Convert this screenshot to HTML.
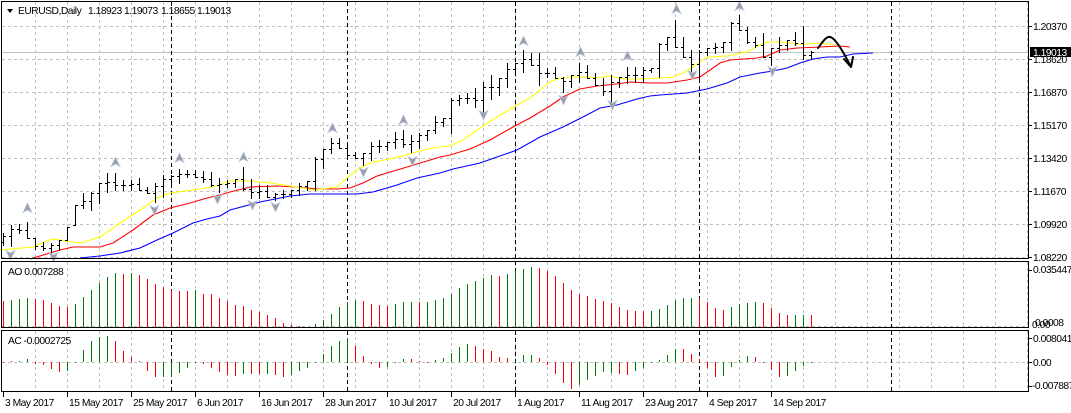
<!DOCTYPE html>
<html><head><meta charset="utf-8">
<style>
html,body{margin:0;padding:0;background:#fff;overflow:hidden;}
svg{display:block;}
text{font-family:"Liberation Sans",sans-serif;font-size:10.3px;letter-spacing:-0.5px;fill:#000;}
</style></head><body>
<svg id="c" width="1071" height="413" xmlns="http://www.w3.org/2000/svg">
<rect width="1071" height="413" fill="#fff"/>
<g id="grid"></g>
<path d="M2 52.5H1028" stroke="#c0c0c0" stroke-width="1" fill="none"/>
<g id="sep"></g>
<g id="ma"></g>
<g id="bars"></g>
<g id="fr"></g>
<g id="ind"></g>
<path d="M818 48 C822 43 826 36 830 37 C836 38 846 57 851 67 M844 59 L851 67 L853 57" stroke="#000" stroke-width="2" fill="none" stroke-linejoin="round" stroke-linecap="round"/>
<!-- borders -->
<rect x="1.5" y="1.5" width="1027" height="257" fill="none" stroke="#000" stroke-width="1"/>
<rect x="1.5" y="261.5" width="1027" height="66" fill="none" stroke="#000" stroke-width="1"/>
<rect x="1.5" y="330.5" width="1027" height="61" fill="none" stroke="#000" stroke-width="1"/>
<g id="ticks"></g>
<!-- header -->
<polygon points="7,9 13,9 10,13" fill="#000"/>
<text x="18" y="14">EURUSD,Daily</text>
<text x="88" y="14">1.18923</text>
<text x="124" y="14">1.19073</text>
<text x="161" y="14">1.18655</text>
<text x="197" y="14">1.19013</text>
<text x="8" y="275">AO 0.007288</text>
<text x="8" y="344">AC -0.0002725</text>
<!-- right axis -->
<text x="1033" y="30">1.20370</text>
<text x="1033" y="63">1.18620</text>
<rect x="1030" y="47" width="41" height="10" fill="#000"/>
<text x="1033" y="56" style="fill:#fff">1.19013</text>
<text x="1033" y="96">1.16870</text>
<text x="1033" y="129">1.15170</text>
<text x="1033" y="162">1.13420</text>
<text x="1033" y="195">1.11670</text>
<text x="1033" y="228">1.09920</text>
<text x="1033" y="261">1.08220</text>
<text x="1033" y="273">0.035447</text>
<text x="1032" y="328">0.00</text>
<text x="1035" y="326">0.0008</text>
<text x="1033" y="342">0.0080415</text>
<text x="1033" y="366">0.00</text>
<text x="1032" y="389">-0.007887</text>
<!-- time axis -->
<text x="5" y="406">3 May 2017</text>
<text x="69" y="406">15 May 2017</text>
<text x="133" y="406">25 May 2017</text>
<text x="197" y="406">6 Jun 2017</text>
<text x="261" y="406">16 Jun 2017</text>
<text x="325" y="406">28 Jun 2017</text>
<text x="389" y="406">10 Jul 2017</text>
<text x="453" y="406">20 Jul 2017</text>
<text x="517" y="406">1 Aug 2017</text>
<text x="581" y="406">11 Aug 2017</text>
<text x="645" y="406">23 Aug 2017</text>
<text x="709" y="406">4 Sep 2017</text>
<text x="773" y="406">14 Sep 2017</text>
</svg>
<script>
(function(){
const NS='http://www.w3.org/2000/svg';
function el(tag,attrs,parent){const e=document.createElementNS(NS,tag);for(const k in attrs)e.setAttribute(k,attrs[k]);parent.appendChild(e);return e;}
// grid
let d='';
[26,59,92,125,158,191,224,257].forEach(y=>{d+='M2 '+(y+.5)+'H1028';});
const panels=[[2,258],[262,327],[331,391]];
for(let k=1;k<=32;k++){const x=3+32*k+.5;if(x>1028)break;panels.forEach(p=>{d+='M'+x+' '+p[0]+'V'+p[1];});}
d+='M2 326.5H1028M2 362.5H1028';
el('path',{d:d,stroke:'#c0c0c0','stroke-dasharray':'3,3',fill:'none','stroke-width':1},document.getElementById('grid'));
// separators
d='';
[171,347,515,699,891].forEach(x=>{d+='M'+(x+.5)+' 2V391';});
el('path',{d:d,stroke:'#000','stroke-dasharray':'4,3',fill:'none','stroke-width':1},document.getElementById('sep'));
// MAs
const MA=document.getElementById('ma');
const Y=[[0,250],[33,247],[52,239],[60,240],[80,243],[100,237],[120,223],[140,210],[157,198],[170,193],[193,190],[213,187],[230,181],[250,181],[270,183],[290,186],[303,188],[313,190],[323,189],[337,187],[347,178],[360,168],[373,162],[390,159],[410,154],[423,150],[440,147],[450,146],[463,140],[480,128],[497,117],[517,105],[530,98],[540,90],[550,82],[557,79],[570,77],[587,77],[597,78],[610,76],[623,79],[640,79],[660,78],[673,77],[683,73],[693,67],[707,57],[727,56],[747,52],[760,45],[767,42],[780,42],[797,44],[807,44],[820,43],[835,45]];
const R=[[30,259],[60,250],[73,247],[100,247],[113,243],[133,230],[153,215],[170,208],[190,203],[207,198],[220,195],[230,192],[250,187],[277,186],[297,187],[317,189],[337,189],[350,188],[363,183],[377,176],[397,170],[417,164],[440,157],[450,155],[470,149],[490,140],[513,127],[530,118],[550,106],[563,97],[580,89],[597,86],[617,84],[630,82],[650,83],[667,83],[687,80],[700,77],[710,70],[720,63],[730,60],[757,58],[767,56],[780,50],[797,48],[820,47],[840,46],[850,47]];
const B=[[80,258],[100,256],[120,253],[140,248],[157,240],[173,233],[193,223],[207,219],[220,216],[230,210],[260,202],[290,196],[310,194],[337,194],[357,194],[373,192],[397,185],[417,178],[440,173],[453,169],[480,163],[497,157],[517,150],[540,137],[563,127],[583,117],[600,108],[617,105],[637,99],[650,96],[660,95],[687,93],[707,89],[727,83],[740,77],[760,73],[773,71],[787,68],[800,63],[813,59],[827,57],[840,57],[853,54],[873,53]];
[[B,'#0000ff'],[R,'#ff0000'],[Y,'#ffff00']].forEach(s=>{el('polyline',{points:s[0].map(p=>p.join(',')).join(' '),stroke:s[1],fill:'none','stroke-width':1.1},MA);});
// bars
const HL=[[233,245],[225,246],[224,233],[222,238],[238,249],[242,250],[243,253],[240,250],[227,240],[205,225],
[193,208],[192,210],[183,203],[173,192],[173,190],[180,190],[180,190],[178,190],[187,193],[183,202],
[175,197],[175,183],[169,183],[170,177],[170,177],[171,182],[172,186],[178,192],[180,187],[179,187],
[167,190],[179,198],[185,198],[185,197],[193,200],[190,198],[190,197],[183,195],[181,190],[157,190],
[149,168],[138,153],[138,148],[142,155],[152,158],[153,165],[142,160],[140,152],[142,150],[132,148],
[130,147],[135,152],[133,148],[130,140],[116,133],[118,126],[98,133],[95,105],[93,103],[88,107],
[82,117],[75,99],[78,95],[63,87],[63,74],[50,72],[53,65],[53,85],[68,77],[67,78],
[77,92],[75,87],[63,82],[65,78],[73,85],[78,95],[75,107],[77,87],[67,83],[67,82],
[67,82],[68,72],[43,77],[37,50],[20,47],[37,57],[50,72],[50,78],[48,55],[43,53],
[42,52],[22,50],[15,30],[27,43],[37,47],[33,57],[48,65],[37,52],[40,50],[32,45],
[26,59],[51,59]];
const n=HL.length;const C=[],O=[];
function cl(v,a,b){return Math.max(a,Math.min(b,v));}
for(let i=0;i<n;i++){const h=HL[i][0],l=HL[i][1];if(i<n-1){const m=(HL[i+1][0]+HL[i+1][1])/2;C.push(Math.round(cl(m,h,l)));}else C.push(52);}
for(let i=0;i<n;i++){const h=HL[i][0],l=HL[i][1];O.push(i==0?Math.round((h+l)/2+3):Math.round(cl(C[i-1],h,l)));}
d='';
for(let i=0;i<n;i++){const x=3+8*i;d+='M'+(x+.5)+' '+HL[i][0]+'V'+(HL[i][1]+1)+'M'+(x-2)+' '+(O[i]+.5)+'H'+x+'M'+(x+1)+' '+(C[i]+.5)+'H'+(x+3);}
el('path',{d:d,stroke:'#000',fill:'none','stroke-width':1},document.getElementById('bars'));
// fractals
const FR=document.getElementById('fr');
const up=[[27,208],[115,162],[179,158],[243,157],[332,128],[403,120],[523,41],[580,52],[627,56],[676,9],[739,6]];
const dn=[[10,255],[53,257],[154,210],[217,199],[252,205],[275,207],[363,172],[412,161],[483,115],[563,100],[612,105],[692,75],[772,71]];
up.forEach(p=>{const x=p[0]+.5,y=p[1];el('path',{d:'M'+x+' '+(y-5)+'L'+(x+4.5)+' '+(y+4.5)+'L'+x+' '+(y+2)+'L'+(x-4.5)+' '+(y+4.5)+'Z',fill:'#9c9ca6',stroke:'#b8c8e0','stroke-width':0.8},FR);});
dn.forEach(p=>{const x=p[0]+.5,y=p[1];el('path',{d:'M'+x+' '+(y+5)+'L'+(x+4.5)+' '+(y-4.5)+'L'+x+' '+(y-2)+'L'+(x-4.5)+' '+(y-4.5)+'Z',fill:'#9c9ca6',stroke:'#b8c8e0','stroke-width':0.8},FR);});
// AO
const AO=[300.7,300,299,298,299.3,300,302.7,306,307,304, 297,290,283.3,276.7,273.3,274,272.7,275,279,283.7, 287,290,291,291,290,293.7,294,298,301,304.7, 306,310,312,315.3,318,322.7,325,326,327,324, 320,314,307.3,302,300,301,304,305,306,304, 302,302,302,302,300,298,294,288,284,281, 278,275,276,274,271,269,267,268,271,276, 283,290,294,296,299,301,303,307,310,311, 311,311,309,305,300,298,298,298,302,307.7, 310,307,303.7,303,302,303,307.7,313,315,315, 315,315];
const AOc='RGGGRRRRRGGGGGGRGRRRRRRRGRRRRRRRRRRRRRRGGGGGGRRRRGGGRGGGGGGGGGRGGGGRRRRRRRRRRRRRRGGGGGGRRRRGGGGRRRRGGR';
const AC=[362,361,361,359,364,365,368.6,371.6,370.6,361.5, 350,340.6,337.3,336,340.6,351,356.6,361,370.6,376.6, 376.6,376.6,372.6,367.6,363,363.6,367.6,371.6,375,375.6, 373.6,374,374,374,375,376.6,374.6,370.6,367.6,361.6, 354,346,340.6,338.3,345.6,355.6,363.6,367.6,366.6,361.6, 359,359,361,361.6,360,357.6,352.6,347,344,345.6, 349,351,356.6,357.6,361,354.6,354.6,357.6,365,373.6, 382.6,389,385,380,375.6,372,372.6,374,375,371, 367.6,362,360.3,354.6,349,349,354,359.3,367.6,376.6, 375.6,366.6,360,355.6,357,362,370,376.6,375.6,370.6, 365.6,361.6];
const ACc='RRGGRRRRGGGGGGRRRRRRGGGGGRRRRRGRRGRRGGGGGGGGRRRRGGGRRRGGGGGRRRRRGGGRRRRRGGGGGRRGGGGGGRRRRRGGGGRRRRGGGG';
let dg='',dr='';
for(let i=0;i<n;i++){const x=3+8*i+.5;let s='M'+x+' '+Math.round(AO[i])+'V327';if(AOc[i]=='G')dg+=s;else dr+=s;}
for(let i=0;i<n;i++){const x=3+8*i+.5;let v=Math.round(AC[i]);let s;if(v>=362){s='M'+x+' 362V'+Math.max(v,363);}else{s='M'+x+' '+Math.min(v,361)+'V362';}if(ACc[i]=='G')dg+=s;else dr+=s;}
const IND=document.getElementById('ind');
el('path',{d:dg,stroke:'#008000',fill:'none','stroke-width':1},IND);
el('path',{d:dr,stroke:'#ff0000',fill:'none','stroke-width':1},IND);
// ticks
d='';
[26,59,92,125,158,191,224,257,270,338,362,386].forEach(y=>{d+='M1029 '+(y+.5)+'H1032';});
for(let k=0;k<13;k++){const x=3+64*k+.5;d+='M'+x+' 392V397';}
el('path',{d:d,stroke:'#000',fill:'none','stroke-width':1},document.getElementById('ticks'));
})();
</script>
</body></html>
